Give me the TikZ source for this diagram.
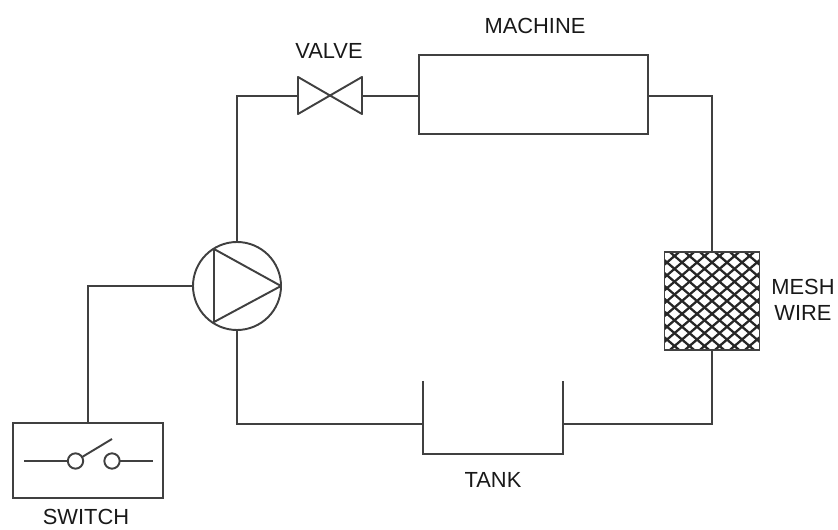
\documentclass[tikz,border=0pt]{standalone}
\usepackage{fontspec}
\setmainfont{Liberation Sans}
\tikzset{
  wire/.style={line width=1.45pt, draw=black!75},
  part/.style={wire, inner sep=0pt, outer sep=0pt},
  tag/.style={inner sep=0pt, text=black!90, font=\fontsize{16.4}{19.5}\selectfont, align=center}
}
\begin{document}
\begin{tikzpicture}[x=0.75pt, y=-0.75pt]
    \useasboundingbox (0, 0) rectangle (838, 530);

    \node [part, minimum width=171.75pt, minimum height=59.25pt] (machine) at (533.5, 94.5) {};
    \node [part, circle, minimum size=66pt] (pump) at (237, 286) {};
    \node [part, minimum width=71.25pt, minimum height=73.5pt] (mesh) at (712, 301) {};
    \node [part, minimum width=112.5pt, minimum height=56.25pt] (switch) at (88, 460.5) {};

    \node [tag] (machinelabel) at (535, 26) {MACHINE};
    \node [tag] (valvelabel) at (329, 51) {VALVE};
    \node [tag] (meshlabel) at (803, 300) {MESH\\WIRE};
    \node [tag] (tanklabel) at (493, 480) {TANK};
    \node [tag] (switchlabel) at (86, 517) {SWITCH};

    % valve
    \coordinate (valveleft) at (298, 96);
    \coordinate (valveright) at (362, 96);
    \draw [wire, line join=round] (valveleft) -- (298, 77) -- (362, 114) -- (valveright) -- (362, 77) -- (298, 114) -- cycle;

    % pump
    \coordinate (pumpa) at (214, 249);
    \coordinate (pumpb) at (214, 322);
    \draw [wire, line join=round] (pumpa) -- (pumpb) -- (pump.east) -- cycle;

    % mesh
    \begin{scope}
      \clip (mesh.south west) rectangle (mesh.north east);
      \foreach \i in {-12, ..., 12}
        \draw [line width=1.7pt, draw=black!85] (712 + \i*15 - 70, 361) -- (712 + \i*15 + 70, 241)
                                                (712 + \i*15 - 70, 241) -- (712 + \i*15 + 70, 361);
    \end{scope}
    \draw [wire] (mesh.south west) rectangle (mesh.north east);

    % tank
    \coordinate (tankleft) at (423, 424);
    \coordinate (tankright) at (563, 424);
    \draw [wire] (423, 381) -- (tankleft) -- (423, 454) -- (563, 454) -- (tankright) -- (563, 381);

    % switch
    \coordinate (switcha) at (24, 461);
    \coordinate (switchb) at (153, 461);
    \node [part, circle, minimum size=11.5pt] (contacta) at (75.5, 461) {};
    \node [part, circle, minimum size=11.5pt] (contactb) at (112, 461) {};
    \coordinate (leverend) at (112, 439);
    \draw [wire] (switcha) -- (contacta);
    \draw [wire] (contactb) -- (switchb);
    \draw [wire] (contacta) -- (leverend);

    % pipes
    \draw [wire] (pump.north) |- (valveleft);
    \draw [wire] (valveright) -- (machine.west |- valveright);
    \draw [wire] (machine.east |- valveright) -| (mesh.north);
    \draw [wire] (mesh.south) |- (tankright);
    \draw [wire] (tankleft) -| (pump.south);
    \draw [wire] (pump.west) -| (switch.north);
  \end{tikzpicture}
\end{document}
